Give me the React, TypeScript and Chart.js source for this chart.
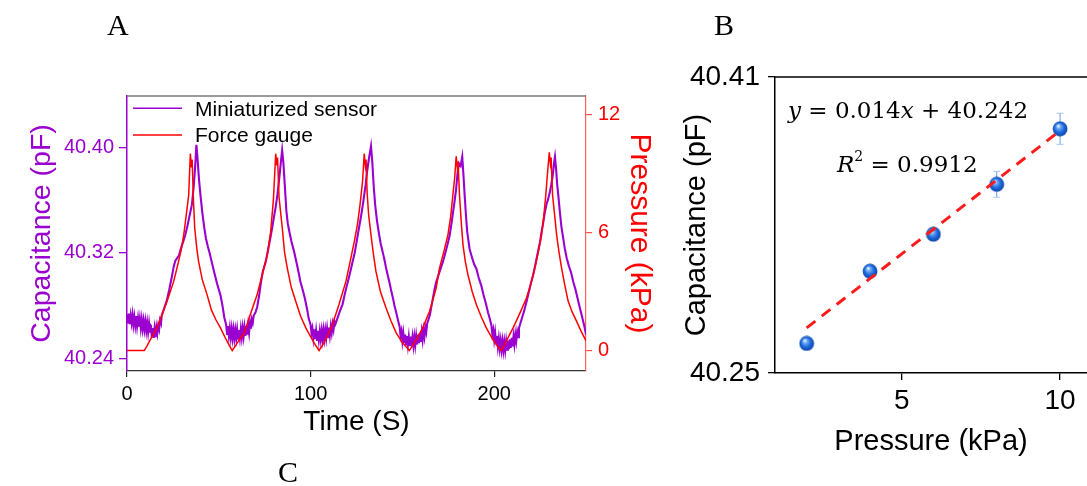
import { useEffect, useRef } from 'react';
import { Chart, registerables } from 'chart.js';

Chart.register(...registerables);

const SANS = '"Liberation Sans", Arial, Helvetica, sans-serif';
const SERIF = '"Liberation Serif", "Times New Roman", serif';
const MATH = '"DejaVu Serif", "Liberation Serif", serif';
const PURPLE = '#9a00cf';
const RED = '#ff0000';

// ---------------- Panel A: time series ----------------
const timeTicks = [0, 100, 200];
const capTicks = [40.24, 40.32, 40.4];
const pressureTicks = [0, 6, 12];

// Force gauge: [time (s), pressure (kPa)]
const forceData: [number, number][] = [
  [0, 0], [9.4, 0], [11, 0.25], [13, 0.6], [16.3, 1.15], [19, 1.8], [22, 2.55], [25.4, 3.5], [27.5, 4.3],
  [29.5, 5.1], [30.9, 5.87], [32.3, 6.9], [33.6, 7.9], [34.5, 10.0], [35.1, 9.3], [35.5, 9.7], [36.2, 7.6],
  [36.9, 6.2], [38, 5.2], [39, 4.52], [41, 3.6], [43.6, 2.84], [46, 2.05], [48.5, 1.55], [50.9, 1.15],
  [53.5, 0.65], [55.5, 0.3], [57.3, 0],
  [59.5, 0.3], [61.5, 0.6], [63.7, 0.85], [66, 1.5], [68.5, 2.2], [70.9, 2.84], [73.5, 3.8], [76.4, 4.86],
  [78.2, 6.0], [79.7, 7.6], [81, 10.0], [81.6, 9.4], [82, 9.8], [82.8, 7.8], [84.6, 6.2], [85.8, 5.0],
  [87.3, 4.19], [89.5, 3.2], [91.9, 2.5], [94.5, 1.75], [97.4, 1.15], [100, 0.7], [102.5, 0.3], [104.6, 0],
  [107, 0.35], [109.5, 0.8], [111.9, 1.32], [115.5, 2.35], [119.2, 3.5], [121.5, 4.5], [123.8, 5.53],
  [125.5, 6.4], [126.9, 7.39], [128.3, 8.6], [129.2, 10.0], [129.8, 9.4], [130.2, 9.7], [130.8, 8.0],
  [131.6, 6.9], [132.9, 5.87], [134.2, 4.9], [135.6, 4.02], [138, 3.0], [141.1, 2.16], [143.8, 1.5],
  [146.6, 0.9], [150, 0.4], [153.8, 0],
  [157.5, 0.55], [161.1, 1.15], [164.8, 2.0], [168.4, 3.17], [170.2, 4.19], [172.5, 5.0], [174.8, 5.87],
  [176.3, 6.8], [177.5, 7.9], [178.5, 8.8], [179.3, 9.87], [179.9, 9.3], [180.3, 9.6], [181.1, 7.9],
  [182, 6.6], [183, 5.37], [184.3, 4.5], [185.7, 3.85], [188, 3.0], [190.3, 2.33], [193, 1.7], [195.7, 1.15],
  [199, 0.6], [201.5, 0.25], [203.9, 0],
  [207, 0.55], [210.3, 1.15], [214, 1.9], [217.6, 2.67], [220, 3.4], [222.1, 4.19], [224, 5.0], [225.8, 5.87],
  [227, 6.8], [228.1, 7.9], [229.2, 9.2], [230, 10.07], [230.6, 9.5], [231, 9.8], [231.8, 7.9], [233, 6.8],
  [234, 5.87], [235.3, 5.0], [236.7, 4.19], [238.5, 3.3], [240.3, 2.5], [242.5, 1.95], [244.9, 1.48],
  [247.5, 0.95], [250, 0.5],
];

// Miniaturized sensor: [time (s), capacitance (pF)] (noisy troughs read as a band)
const sensorData: [number, number][] = [
  [0, 40.2735], [0.5, 40.2665], [1, 40.274], [1.5, 40.266], [2, 40.2725], [2.5, 40.267], [3, 40.273],
  [3.5, 40.2655], [4, 40.2715], [4.5, 40.265], [5, 40.272], [5.5, 40.2645], [6, 40.2705], [6.5, 40.264],
  [7, 40.27], [7.5, 40.263], [8, 40.2695], [8.5, 40.2625], [9, 40.2685], [9.5, 40.262], [10, 40.268],
  [10.5, 40.261], [11, 40.267], [11.5, 40.26], [12, 40.2665], [12.5, 40.2595], [13, 40.2655], [13.5, 40.256],
  [14, 40.263], [14.5, 40.2555], [15, 40.2625], [15.5, 40.256], [16, 40.2635], [16.5, 40.259], [17, 40.265],
  [17.5, 40.262], [18, 40.269], [18.5, 40.267], [19, 40.273], [20, 40.277], [21.7, 40.284], [23, 40.292],
  [24.3, 40.301], [25.5, 40.31], [26.3, 40.314], [27.3, 40.316], [28.3, 40.318], [29.5, 40.324], [30.7, 40.329],
  [31.8, 40.334], [33, 40.341], [34.2, 40.349], [35.4, 40.357], [36.3, 40.37], [37.1, 40.385], [37.8, 40.402],
  [38.4, 40.392], [39.2, 40.376], [40, 40.364], [41, 40.351], [42, 40.34], [43, 40.331], [44, 40.325],
  [45, 40.32], [46, 40.314], [47.4, 40.306], [49, 40.297], [50.9, 40.288], [52, 40.28], [53, 40.271],
  [54, 40.2655], [54.5, 40.2585], [55, 40.2645], [55.5, 40.257], [56, 40.263], [56.5, 40.256], [57, 40.2625],
  [57.5, 40.2555], [58, 40.262], [58.5, 40.255], [59, 40.2615], [59.5, 40.2555], [60, 40.262], [60.5, 40.255],
  [61, 40.2615], [61.5, 40.2555], [62, 40.2625], [62.5, 40.256], [63, 40.263], [63.5, 40.2565], [64, 40.2635],
  [64.5, 40.257], [65, 40.2645], [65.5, 40.258], [66, 40.2655], [66.5, 40.2595], [67, 40.267], [67.5, 40.2625],
  [68, 40.2695], [68.5, 40.267], [69, 40.2725], [70, 40.275], [70.9, 40.279], [72, 40.288], [73, 40.298],
  [74, 40.306], [74.6, 40.309], [75.5, 40.313], [76.5, 40.32], [77.5, 40.327], [78.3, 40.333], [79.2, 40.34],
  [80, 40.347], [81, 40.355], [81.9, 40.364], [82.8, 40.375], [83.6, 40.386], [84.5, 40.398], [85.2, 40.388],
  [86, 40.37], [86.8, 40.352], [87.6, 40.342], [88.3, 40.337], [89.5, 40.329], [91, 40.321], [92.3, 40.313],
  [93.5, 40.305], [94.5, 40.298], [95.5, 40.293], [96.8, 40.286], [98, 40.278], [99, 40.27],
  [100, 40.2655], [100.5, 40.259], [101, 40.2625], [101.5, 40.2555], [102, 40.262], [102.5, 40.2545],
  [103, 40.261], [103.5, 40.254], [104, 40.261], [104.5, 40.254], [105, 40.2605], [105.5, 40.2545],
  [106, 40.261], [106.5, 40.2545], [107, 40.2615], [107.5, 40.255], [108, 40.2615], [108.5, 40.2555],
  [109, 40.2625], [109.5, 40.256], [110, 40.2635], [110.5, 40.2575], [111, 40.2645], [111.5, 40.2595],
  [112, 40.266], [112.5, 40.262], [113, 40.268], [113.5, 40.266], [114.5, 40.27],
  [116, 40.276], [117.4, 40.281], [118.5, 40.288], [119.5, 40.294], [120.8, 40.301], [122, 40.308],
  [123, 40.314], [124, 40.32], [125, 40.328], [125.6, 40.333], [126.6, 40.341], [127.5, 40.348],
  [128.4, 40.356], [129.2, 40.364], [130, 40.372], [130.8, 40.382], [131.8, 40.392], [132.9, 40.401],
  [133.6, 40.389], [134.4, 40.37], [135.2, 40.356], [136.2, 40.344], [137.3, 40.334], [138.2, 40.327],
  [139.2, 40.321], [140.2, 40.315], [141.2, 40.308], [142.2, 40.302], [142.9, 40.298], [143.8, 40.292],
  [144.8, 40.286], [145.7, 40.28], [146.6, 40.275], [147.6, 40.269],
  [148.5, 40.264], [149, 40.257], [149.5, 40.2605], [150, 40.253], [150.5, 40.259], [151, 40.2515],
  [151.5, 40.258], [152, 40.2505], [152.5, 40.257], [153, 40.25], [153.5, 40.2565], [154, 40.2495],
  [154.5, 40.2565], [155, 40.249], [155.5, 40.256], [156, 40.2495], [156.5, 40.2565], [157, 40.25],
  [157.5, 40.257], [158, 40.2505], [158.5, 40.258], [159, 40.2515], [159.5, 40.259], [160, 40.2525],
  [160.5, 40.26], [161, 40.254], [161.5, 40.2615], [162, 40.2565], [162.5, 40.2635], [163, 40.26],
  [163.5, 40.2665], [165, 40.273], [166, 40.281], [166.8, 40.287],
  [167.6, 40.293], [168.4, 40.298], [169.6, 40.303], [170.8, 40.308], [172, 40.313], [173.2, 40.319],
  [174.5, 40.326], [175.7, 40.333], [176.6, 40.341], [177.5, 40.35], [178.4, 40.359], [179.3, 40.369],
  [180, 40.38], [180.8, 40.388], [181.7, 40.386], [182.6, 40.393], [183.3, 40.378], [183.9, 40.364],
  [184.6, 40.349], [185.3, 40.336], [186.6, 40.323], [188, 40.316], [189.2, 40.311], [190.3, 40.308],
  [191.6, 40.301], [193, 40.295], [194.2, 40.288], [195.4, 40.282], [196.6, 40.275], [197.6, 40.27],
  [198.5, 40.265], [199, 40.258], [199.5, 40.2615], [200, 40.254], [200.5, 40.2595], [201, 40.2515],
  [201.5, 40.257], [202, 40.249], [202.5, 40.255], [203, 40.2475], [203.5, 40.2535], [204, 40.2465],
  [204.5, 40.253], [205, 40.246], [205.5, 40.2525], [206, 40.246], [206.5, 40.253], [207, 40.2465],
  [207.5, 40.2535], [208, 40.247], [208.5, 40.2545], [209, 40.248], [209.5, 40.2555], [210, 40.249],
  [210.5, 40.2565], [211, 40.2505], [211.5, 40.258], [212, 40.253], [212.5, 40.26], [213, 40.256],
  [213.5, 40.263], [215, 40.27], [216.3, 40.276],
  [217.6, 40.283], [218.8, 40.29], [220, 40.297], [221.2, 40.303], [222.4, 40.311], [223.7, 40.32],
  [224.9, 40.328], [225.8, 40.336], [226.7, 40.343], [227.6, 40.351], [228.5, 40.357], [229.4, 40.361],
  [230.3, 40.366], [231.1, 40.372], [231.8, 40.378], [232.5, 40.387], [233.1, 40.393], [233.7, 40.384],
  [234.3, 40.372], [234.9, 40.364], [235.7, 40.352], [236.6, 40.34], [237.6, 40.331], [238.5, 40.323],
  [239.5, 40.316], [240.7, 40.31], [241.9, 40.305], [243.1, 40.298], [244.3, 40.292], [245.5, 40.285],
  [246.7, 40.278], [247.8, 40.272], [249, 40.265], [250, 40.258],
];

// ---------------- Panel B: calibration ----------------
const pressureLevels = [2, 4, 6, 8, 10];
const capMeans = [40.266, 40.305, 40.325, 40.352, 40.382];
const capErrors = [0, 0, 0, 0.007, 0.0084];
const fitX = [2, 10];
const fitY = [40.2744, 40.381];
const bXTicks = [5, 10];
const bYTicks = [40.25, 40.41];
const fitEquation = ['y', ' = 0.014', 'x', ' + 40.242'];
const fitR2 = ['R', '2', ' = 0.9912'];

const toXY = (pts: [number, number][]) => pts.map(([x, y]) => ({ x, y }));

const topBorder = (color: string, width: number) => ({
  id: 'topBorder',
  afterDraw(chart: any) {
    const { ctx, chartArea: a } = chart;
    ctx.save();
    ctx.strokeStyle = color;
    ctx.lineWidth = width;
    ctx.beginPath();
    ctx.moveTo(a.left, a.top);
    ctx.lineTo(a.right, a.top);
    ctx.stroke();
    ctx.restore();
  },
});

const legendA = {
  id: 'legendA',
  afterDraw(chart: any) {
    const { ctx, chartArea: a } = chart;
    ctx.save();
    ctx.font = `21px ${SANS}`;
    ctx.textBaseline = 'alphabetic';
    chart.data.datasets.forEach((ds: any, i: number) => {
      const ly = a.top + 12.3 + i * 26.7;
      ctx.strokeStyle = ds.borderColor;
      ctx.lineWidth = 1.6;
      ctx.beginPath();
      ctx.moveTo(a.left + 6, ly);
      ctx.lineTo(a.left + 55, ly);
      ctx.stroke();
      ctx.fillStyle = '#000';
      ctx.fillText(ds.label, a.left + 68, ly + 7.4);
    });
    ctx.restore();
  },
};

const equationB = {
  id: 'equationB',
  afterDraw(chart: any) {
    const { ctx, chartArea: a } = chart;
    const runs = (parts: [string, string, number][], x0: number, y: number) => {
      let x = x0;
      for (const [text, font, dy] of parts) {
        ctx.font = font;
        ctx.fillText(text, x, y + dy);
        x += ctx.measureText(text).width;
      }
    };
    ctx.save();
    ctx.fillStyle = '#000';
    ctx.textBaseline = 'alphabetic';
    runs(
      [
        [fitEquation[0], `italic 23px ${MATH}`, 0],
        [fitEquation[1], `23px ${MATH}`, 0],
        [fitEquation[2], `italic 23px ${MATH}`, 0],
        [fitEquation[3], `23px ${MATH}`, 0],
      ],
      a.left + 13,
      a.top + 41
    );
    runs(
      [
        [fitR2[0], `italic 23px ${MATH}`, 0],
        [fitR2[1], `14px ${MATH}`, -11],
        [fitR2[2], `23px ${MATH}`, 0],
      ],
      a.left + 62,
      a.top + 94.5
    );
    ctx.restore();
  },
};

const errorBarsB = {
  id: 'errorBarsB',
  beforeDatasetsDraw(chart: any) {
    const { ctx } = chart;
    const meta = chart.getDatasetMeta(0);
    const yScale = chart.scales.y;
    ctx.save();
    meta.data.forEach((pt: any, i: number) => {
      const e = capErrors[i];
      if (!e) return;
      const top = yScale.getPixelForValue(capMeans[i] + e);
      const bot = yScale.getPixelForValue(capMeans[i] - e);
      ctx.strokeStyle = '#6a9be8';
      ctx.lineWidth = 1;
      ctx.beginPath();
      ctx.moveTo(pt.x, top);
      ctx.lineTo(pt.x, bot);
      ctx.stroke();
      ctx.strokeStyle = '#a6c6f4';
      ctx.beginPath();
      ctx.moveTo(pt.x - 3.5, top);
      ctx.lineTo(pt.x + 3.5, top);
      ctx.moveTo(pt.x - 3.5, bot);
      ctx.lineTo(pt.x + 3.5, bot);
      ctx.stroke();
    });
    ctx.restore();
  },
};

function sphereImage(): HTMLCanvasElement {
  const c = document.createElement('canvas');
  c.width = 16;
  c.height = 16;
  const g = c.getContext('2d')!;
  const grad = g.createRadialGradient(6, 5, 0.4, 8, 8, 7.6);
  grad.addColorStop(0, '#f2f8ff');
  grad.addColorStop(0.22, '#74b0f7');
  grad.addColorStop(0.6, '#1f6ade');
  grad.addColorStop(1, '#0c43a6');
  g.fillStyle = grad;
  g.beginPath();
  g.arc(8, 8, 7.4, 0, Math.PI * 2);
  g.fill();
  return c;
}

const letterStyle = (left: number, top: number): React.CSSProperties => ({
  position: 'absolute',
  left,
  top,
  fontFamily: SERIF,
  fontSize: 30,
  lineHeight: '30px',
  color: '#000',
});

export default function App() {
  const refA = useRef<HTMLCanvasElement>(null);
  const refB = useRef<HTMLCanvasElement>(null);

  useEffect(() => {
    const chartA = new Chart(refA.current!, {
      type: 'line',
      data: {
        datasets: [
          {
            label: 'Miniaturized sensor',
            data: toXY(sensorData),
            borderColor: PURPLE,
            borderWidth: 2.1,
            pointRadius: 0,
            tension: 0,
            yAxisID: 'yCap',
            order: 1,
          },
          {
            label: 'Force gauge',
            data: toXY(forceData),
            borderColor: RED,
            borderWidth: 1.5,
            pointRadius: 0,
            tension: 0,
            yAxisID: 'yP',
            order: 0,
          },
        ],
      },
      options: {
        animation: false,
        responsive: false,
        maintainAspectRatio: false,
        layout: { autoPadding: false, padding: { top: 96, left: 0, right: 0, bottom: 0 } },
        plugins: { legend: { display: false }, tooltip: { enabled: false } },
        scales: {
          x: {
            type: 'linear',
            min: 0,
            max: 250,
            afterFit: (s: any) => { s.height = 115; },
            afterBuildTicks: (s: any) => { s.ticks = timeTicks.map((value) => ({ value })); },
            grid: { display: true, drawOnChartArea: false, drawTicks: true, tickLength: 6, color: '#222', lineWidth: 1.2 },
            border: { display: true, color: '#333', width: 1.3 },
            ticks: { color: '#000', font: { family: SANS, size: 20 }, padding: 5, maxRotation: 0, autoSkip: false },
            title: { display: true, text: 'Time (S)', color: '#000', font: { family: SANS, size: 28 }, padding: { top: 0, bottom: 47 } },
          },
          yCap: {
            type: 'linear',
            position: 'left',
            min: 40.2304,
            max: 40.4391,
            afterFit: (s: any) => { s.width = 127; },
            afterBuildTicks: (s: any) => { s.ticks = capTicks.map((value) => ({ value })); },
            grid: { display: true, drawOnChartArea: false, drawTicks: true, tickLength: 8, color: PURPLE, lineWidth: 1.3 },
            border: { display: true, color: PURPLE, width: 1.5 },
            ticks: { color: PURPLE, font: { family: SANS, size: 20 }, padding: 5, callback: (v: any) => Number(v).toFixed(2) },
            title: { display: true, text: 'Capacitance (pF)', color: PURPLE, font: { family: SANS, size: 28.5 }, padding: { top: 25, bottom: 0 } },
          },
          yP: {
            type: 'linear',
            position: 'right',
            min: -1.04,
            max: 12.93,
            afterFit: (s: any) => { s.width = 74; },
            afterBuildTicks: (s: any) => { s.ticks = pressureTicks.map((value) => ({ value })); },
            grid: { display: true, drawOnChartArea: false, drawTicks: true, tickLength: 6, color: '#ff4d4d', lineWidth: 1.2 },
            border: { display: true, color: '#ff5c5c', width: 1.2 },
            ticks: { color: RED, font: { family: SANS, size: 20 }, padding: 6, callback: (v: any) => String(v) },
            title: { display: true, text: 'Pressure (kPa)', color: RED, font: { family: SANS, size: 30 }, padding: { top: 3, bottom: 0 } },
          },
        },
      } as any,
      plugins: [topBorder('#7a7a7a', 1.3), legendA],
    });

    const chartB = new Chart(refB.current!, {
      type: 'scatter',
      data: {
        datasets: [
          {
            type: 'scatter',
            label: 'Capacitance',
            data: pressureLevels.map((x, i) => ({ x, y: capMeans[i] })),
            pointStyle: sphereImage(),
            pointRadius: 7,
            order: 1,
          },
          {
            type: 'line',
            label: 'Linear fit',
            data: fitX.map((x, i) => ({ x, y: fitY[i] })),
            borderColor: '#ff1a1a',
            borderWidth: 3,
            borderDash: [11, 8],
            pointRadius: 0,
            order: 0,
          },
        ],
      } as any,
      options: {
        animation: false,
        responsive: false,
        maintainAspectRatio: false,
        layout: { autoPadding: false, padding: { top: 77, left: 0, right: 0, bottom: 0 } },
        plugins: { legend: { display: false }, tooltip: { enabled: false } },
        scales: {
          x: {
            type: 'linear',
            min: 1.0,
            max: 10.85,
            afterFit: (s: any) => { s.height = 113; },
            afterBuildTicks: (s: any) => { s.ticks = bXTicks.map((value) => ({ value })); },
            grid: { display: true, drawOnChartArea: false, drawTicks: true, tickLength: 7, color: '#000', lineWidth: 1.3 },
            border: { display: true, color: '#000', width: 1.5 },
            ticks: { color: '#000', font: { family: SANS, size: 28 }, padding: 4, maxRotation: 0, autoSkip: false },
            title: { display: true, text: 'Pressure (kPa)', color: '#000', font: { family: SANS, size: 29 }, padding: { top: 0, bottom: 27 } },
          },
          y: {
            type: 'linear',
            min: 40.25,
            max: 40.41,
            afterFit: (s: any) => { s.width = 115; },
            afterBuildTicks: (s: any) => { s.ticks = bYTicks.map((value) => ({ value })); },
            grid: { display: true, drawOnChartArea: false, drawTicks: true, tickLength: 7, color: '#000', lineWidth: 1.3 },
            border: { display: true, color: '#000', width: 1.5 },
            ticks: { color: '#000', font: { family: SANS, size: 28 }, padding: 8, callback: (v: any) => Number(v).toFixed(2) },
            title: { display: true, text: 'Capacitance (pF)', color: '#000', font: { family: SANS, size: 29 }, padding: { top: 20, bottom: 0 } },
          },
        },
      } as any,
      plugins: [topBorder('#000', 1.5), errorBarsB, equationB],
    });

    return () => {
      chartA.destroy();
      chartB.destroy();
    };
  }, []);

  return (
    <div
      style={{
        position: 'fixed',
        left: 0,
        top: 0,
        width: 1087,
        height: 486,
        overflow: 'hidden',
        background: '#fff',
      }}
    >
      <canvas ref={refA} width={660} height={486} style={{ position: 'absolute', left: 0, top: 0 }} />
      <canvas ref={refB} width={427} height={486} style={{ position: 'absolute', left: 660, top: 0 }} />
      <div style={letterStyle(107, 10)}>A</div>
      <div style={letterStyle(714, 10)}>B</div>
      <div style={letterStyle(278, 457)}>C</div>
    </div>
  );
}
